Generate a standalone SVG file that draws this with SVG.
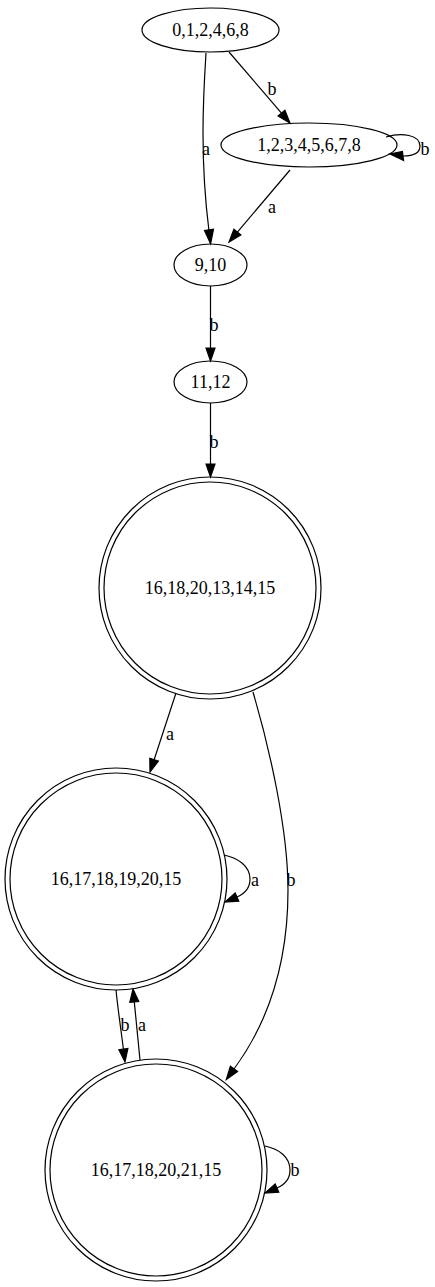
<svg xmlns="http://www.w3.org/2000/svg" width="435" height="1287" viewBox="0 0 435 1287">
<style>
text{font-family:"Liberation Serif","Times New Roman",serif;font-size:18px;fill:#000;text-anchor:middle}
.n{fill:none;stroke:#000;stroke-width:1.2}
.e{fill:none;stroke:#000;stroke-width:1.2}
.h{fill:#000;stroke:#000;stroke-width:1.2}
</style>
<rect x="0" y="0" width="435" height="1287" fill="#fff"/>
<g id="edges">
<g id="e0_9a"><path class="e" d="M206,53 C203,100 200,160 209,231"/><polygon class="h" points="204.5,230.4 210.6,243.9 213.5,229.2"/><text x="206" y="155">a</text></g>
<g id="e0_1b"><path class="e" d="M229,52 L281.5,113.1"/><polygon class="h" points="278.1,116 290,123 284.9,110.2"/><text x="272" y="95">b</text></g>
<g id="e1_1b"><path class="e" d="M386,137 C402,132 420,135 420,146 C420,154 412,156 403,156"/><polygon class="h" points="403.6,160.5 390,154 402.4,151.5"/><text x="425" y="155">b</text></g>
<g id="e1_9a"><path class="e" d="M290,170 L237.4,232.1"/><polygon class="h" points="233.9,229.2 229,242 240.9,235"/><text x="272" y="213">a</text></g>
<g id="e9_11b"><path class="e" d="M210.5,286 L210.5,348"/><polygon class="h" points="206,348 210.5,361 215,348"/><text x="214" y="331">b</text></g>
<g id="e11_b1b"><path class="e" d="M210.5,403 L210.5,464"/><polygon class="h" points="206,464 210.5,477 215,464"/><text x="214" y="448">b</text></g>
<g id="eb1_b2a"><path class="e" d="M176,693 L154.1,759.7"/><polygon class="h" points="149.8,758.3 150,772 158.4,761.1"/><text x="170" y="740">a</text></g>
<g id="eb1_b3b"><path class="e" d="M253,692 C270,750 288,830 288,890 C288,960 270,1020 234,1069"/><polygon class="h" points="230.4,1066.3 226.3,1079.5 237.6,1071.6"/><text x="291" y="886">b</text></g>
<g id="eb2_b2a"><path class="e" d="M224,855 C238,858 250,866 250,879 C250,888 244,894 237,897"/><polygon class="h" points="235.2,892.9 225,902 238.8,901.1"/><text x="255" y="886">a</text></g>
<g id="eb2_b3b"><path class="e" d="M116,990 C118,1010 121,1030 123.4,1049.1"/><polygon class="h" points="118.9,1049.7 125,1062 127.9,1048.5"/><text x="125" y="1031">b</text></g>
<g id="eb3_b2a"><path class="e" d="M140,1060 C138,1040 136,1020 134.3,1001.9"/><polygon class="h" points="138.8,1001.5 133,989 129.8,1002.3"/><text x="142" y="1031">a</text></g>
<g id="eb3_b3b"><path class="e" d="M265,1146 C279,1149 290,1157 290,1170 C290,1180 284,1185 277,1188"/><polygon class="h" points="275.2,1183.9 265,1193 278.8,1192.1"/><text x="295" y="1176">b</text></g>
</g>
<g id="n0"><ellipse class="n" cx="210.5" cy="30" rx="68.5" ry="22"/><text x="210.5" y="36">0,1,2,4,6,8</text></g>
<g id="n1"><ellipse class="n" cx="309" cy="145" rx="88" ry="22"/><text x="309" y="151">1,2,3,4,5,6,7,8</text></g>
<g id="n9"><ellipse class="n" cx="210.5" cy="265" rx="36.5" ry="21"/><text x="210.5" y="271">9,10</text></g>
<g id="n11"><ellipse class="n" cx="210.5" cy="382" rx="36.5" ry="21"/><text x="210.5" y="388">11,12</text></g>
<g id="b1"><circle class="n" cx="210" cy="588" r="111"/><circle class="n" cx="210" cy="588" r="106"/><text x="210" y="594">16,18,20,13,14,15</text></g>
<g id="b2"><circle class="n" cx="116" cy="879" r="111"/><circle class="n" cx="116" cy="879" r="106"/><text x="116" y="885">16,17,18,19,20,15</text></g>
<g id="b3"><circle class="n" cx="156" cy="1170" r="111"/><circle class="n" cx="156" cy="1170" r="106"/><text x="156" y="1176">16,17,18,20,21,15</text></g>
</svg>
